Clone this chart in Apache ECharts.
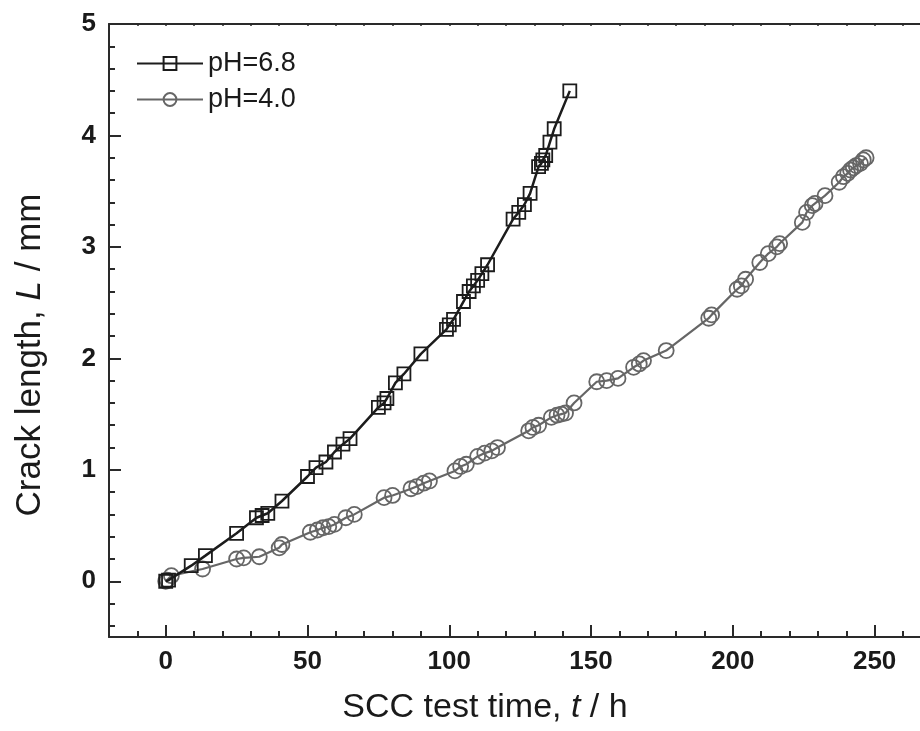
<!DOCTYPE html>
<html>
<head>
<meta charset="utf-8">
<title>SCC crack length</title>
<script src="https://cdn.jsdelivr.net/npm/echarts@6/dist/echarts.min.js"></script>
<style>
	html, body { margin:0; padding:0; background:#fff; }
	#chart { width:920px; height:731px; }
</style>
</head>
<body>
<div id="chart"></div>
<script type="text/javascript">
	// pH=6.8 测试数据 (时间 h / 裂纹长度 mm)
	var time68 = [0, 1, 9, 14, 25, 32, 34, 36, 41, 50, 53, 56.5, 59.5, 62.5, 65, 75, 77, 78, 81, 84, 90,
		99, 100, 101.5, 105, 107, 108.5, 110, 111.5, 113.5, 122.5, 124.5, 126.5, 128.5,
		131.5, 132.5, 133, 134, 135.5, 137, 142.5];
	var length68 = [0, 0.01, 0.14, 0.23, 0.43, 0.57, 0.59, 0.61, 0.72, 0.94, 1.02, 1.07, 1.16, 1.23, 1.28, 1.56, 1.6, 1.64, 1.78, 1.86, 2.04,
		2.26, 2.3, 2.35, 2.51, 2.6, 2.65, 2.7, 2.76, 2.84, 3.25, 3.31, 3.38, 3.48,
		3.72, 3.75, 3.78, 3.82, 3.94, 4.06, 4.4];
	// pH=4.0 测试数据
	var time40 = [0, 0.5, 2, 13, 25, 27.5, 33, 40, 41, 51, 53.5, 55.5, 57.5, 59.5, 63.5, 66.5, 77, 80,
		86.5, 88.5, 91, 93, 102, 104, 106, 110, 112.5, 115, 117, 128, 129.5, 131.5,
		136, 138, 139.5, 141, 144, 152, 155.5, 159.5, 165, 167, 168.5, 176.5,
		191.5, 192.5, 201.5, 203, 204.5, 209.5, 212.5, 215.5, 216.5, 224.5, 226, 228, 229, 232.5,
		237.5, 239, 240.5, 241.5, 242.5, 243.5, 245, 246, 247];
	var length40 = [0, 0.01, 0.05, 0.11, 0.2, 0.21, 0.22, 0.3, 0.33, 0.44, 0.46, 0.48, 0.49, 0.51, 0.57, 0.6, 0.75, 0.77,
		0.83, 0.85, 0.88, 0.9, 0.99, 1.03, 1.05, 1.12, 1.15, 1.17, 1.2, 1.35, 1.38, 1.4,
		1.47, 1.49, 1.5, 1.51, 1.6, 1.79, 1.8, 1.82, 1.92, 1.95, 1.98, 2.07,
		2.36, 2.39, 2.62, 2.65, 2.71, 2.86, 2.94, 3.0, 3.03, 3.22, 3.31, 3.37, 3.39, 3.46,
		3.58, 3.63, 3.66, 3.69, 3.71, 3.73, 3.75, 3.78, 3.8];

	// 刻度
	var xMajorTicks = [0, 50, 100, 150, 200, 250];
	var yMajorTicks = [0, 1, 2, 3, 4, 5];
	var xMinorTicks = [];
	for (var i = -10; i <= 260; i += 10) { xMinorTicks.push(i); }
	var yMinorTicks = [];
	for (var j = -4; j <= 48; j += 2) { yMinorTicks.push(j / 10); }

	var FONT = 'Liberation Sans, Arial, Helvetica, sans-serif';
	var AXIS_COLOR = '#2a2a2a';

	function pairs(xs, ys) {
		var out = [];
		for (var k = 0; k < xs.length; k++) { out.push([xs[k], ys[k]]); }
		return out;
	}

	var chart = echarts.init(document.getElementById('chart'));
	var option = {
		animation: false,
		backgroundColor: '#fff',
		grid: { left: 109, right: 0, top: 24, bottom: 94 },
		legend: {
			orient: 'vertical',
			left: 136,
			top: 50,
			padding: 0,
			itemWidth: 66,
			itemHeight: 16,
			itemGap: 9,
			textStyle: { fontSize: 27, color: '#1a1a1a', fontFamily: FONT },
			data: ['pH=6.8', 'pH=4.0']
		},
		xAxis: [{
			type: 'value', position: 'bottom', min: -20, max: 266,
			axisLine: { show: true, onZero: false, lineStyle: { color: AXIS_COLOR, width: 2 } },
			axisTick: { show: true, inside: true, length: 12, customValues: xMajorTicks, lineStyle: { color: AXIS_COLOR, width: 2 } },
			axisLabel: { customValues: xMajorTicks, margin: 12, fontSize: 26, fontWeight: 'bold', color: '#1a1a1a', fontFamily: FONT },
			splitLine: { show: false }
		}, {
			type: 'value', position: 'bottom', min: -20, max: 266,
			axisLine: { show: false, onZero: false },
			axisTick: { show: true, inside: true, length: 6, customValues: xMinorTicks, lineStyle: { color: AXIS_COLOR, width: 2 } },
			axisLabel: { show: false },
			splitLine: { show: false }
		}, {
			type: 'value', position: 'top', min: -20, max: 266,
			axisLine: { show: true, onZero: false, lineStyle: { color: AXIS_COLOR, width: 2 } },
			axisTick: { show: true, inside: true, length: 2, customValues: xMinorTicks, lineStyle: { color: AXIS_COLOR, width: 1.5 } },
			axisLabel: { show: false },
			splitLine: { show: false }
		}],
		yAxis: [{
			type: 'value', position: 'left', min: -0.5, max: 5,
			axisLine: { show: true, onZero: false, lineStyle: { color: AXIS_COLOR, width: 2 } },
			axisTick: { show: true, inside: true, length: 12, customValues: yMajorTicks, lineStyle: { color: AXIS_COLOR, width: 2 } },
			axisLabel: { customValues: yMajorTicks, margin: 13, fontSize: 26, fontWeight: 'bold', color: '#1a1a1a', fontFamily: FONT },
			splitLine: { show: false }
		}, {
			type: 'value', position: 'left', min: -0.5, max: 5,
			axisLine: { show: false, onZero: false },
			axisTick: { show: true, inside: true, length: 6, customValues: yMinorTicks, lineStyle: { color: AXIS_COLOR, width: 2 } },
			axisLabel: { show: false },
			splitLine: { show: false }
		}],
		graphic: [{
			type: 'text', x: 485, y: 708,
			style: {
				text: '{n|SCC test time, }{i|t}{n| / h}',
				align: 'center', verticalAlign: 'middle',
				rich: {
					n: { fontSize: 34, fontFamily: FONT, fill: '#1a1a1a' },
					i: { fontSize: 34, fontFamily: FONT, fontStyle: 'italic', fill: '#1a1a1a' }
				}
			}
		}, {
			type: 'text', x: 30, y: 355, rotation: Math.PI / 2,
			style: {
				text: '{n|Crack length, }{i|L}{n| / mm}',
				align: 'center', verticalAlign: 'middle',
				rich: {
					n: { fontSize: 35, fontFamily: FONT, fill: '#1a1a1a' },
					i: { fontSize: 35, fontFamily: FONT, fontStyle: 'italic', fill: '#1a1a1a' }
				}
			}
		}],
		series: [{
			name: 'pH=4.0',
			type: 'line',
			data: pairs(time40, length40),
			symbol: 'circle',
			symbolSize: 15,
			showAllSymbol: true,
			lineStyle: { color: '#666', width: 2.2 },
			itemStyle: { color: 'rgba(255,255,255,0)', borderColor: '#666', borderWidth: 1.8 },
			z: 2
		}, {
			name: 'pH=6.8',
			type: 'line',
			data: pairs(time68, length68),
			symbol: 'rect',
			symbolSize: 13,
			showAllSymbol: true,
			lineStyle: { color: '#1c1c1c', width: 2.5 },
			itemStyle: { color: 'rgba(255,255,255,0)', borderColor: '#1c1c1c', borderWidth: 1.8 },
			z: 3
		}]
	};
	chart.setOption(option);
</script>
</body>
</html>
